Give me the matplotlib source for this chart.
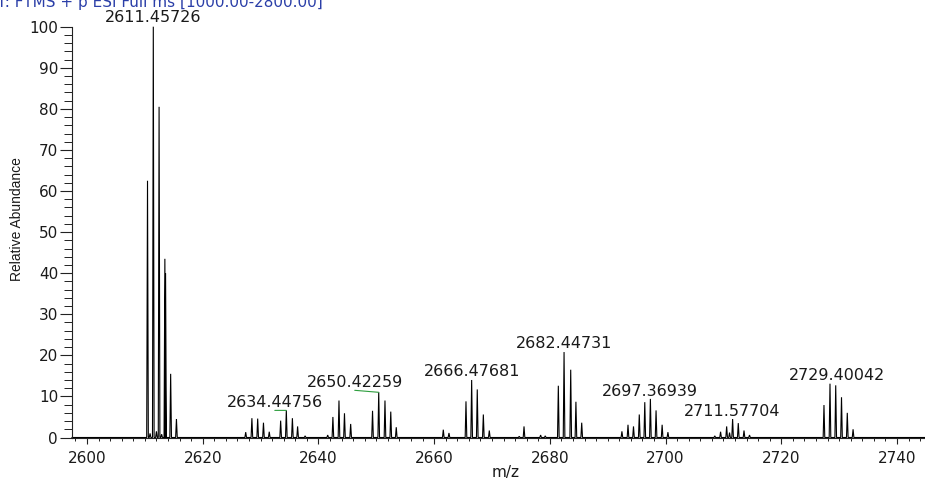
import matplotlib
matplotlib.use("Agg")
import matplotlib.pyplot as plt
from matplotlib.ticker import MultipleLocator

# ---- data ----
peak_mz = [2610.46, 2610.90, 2611.46, 2612.00, 2612.46, 2612.90, 2613.46, 2613.58,
           2614.46, 2615.46,
           2627.43, 2628.50, 2629.50, 2630.50, 2631.50, 2633.47, 2634.45, 2635.50,
           2636.40, 2637.70,
           2641.60, 2642.50, 2643.55, 2644.50, 2645.57, 2649.35, 2650.42, 2651.50,
           2652.50, 2653.45,
           2661.58, 2662.56, 2665.50, 2666.48, 2667.45, 2668.50, 2669.53, 2674.70,
           2675.53, 2678.40, 2679.20,
           2681.46, 2682.45, 2683.60, 2684.50, 2685.50,
           2692.45, 2693.50, 2694.45, 2695.45, 2696.40, 2697.37, 2698.35, 2699.40,
           2700.40,
           2708.50, 2709.50, 2710.55, 2711.05, 2711.58, 2712.56, 2713.55, 2714.50,
           2727.37, 2728.41, 2729.40, 2730.40, 2731.40, 2732.40]
peak_int = [62.5, 1.0, 100.0, 1.5, 80.5, 0.8, 43.5, 40.0,
            15.5, 4.5,
            1.3, 4.7, 4.6, 3.6, 1.4, 4.1, 6.6, 4.7,
            2.7, 0.4,
            0.6, 5.0, 9.0, 5.9, 3.3, 6.5, 11.0, 9.0,
            6.3, 2.5,
            1.9, 1.1, 8.8, 14.0, 11.7, 5.6, 1.7, 0.3,
            2.7, 0.6, 0.4,
            12.6, 20.8, 16.5, 8.7, 3.6,
            1.5, 3.1, 2.7, 5.6, 8.6, 9.4, 6.6, 3.1,
            1.3,
            0.4, 1.4, 2.7, 1.2, 4.5, 3.5, 1.7, 0.6,
            7.9, 13.1, 12.7, 9.8, 6.0, 2.0]

label_mz = [2611.45726, 2634.44756, 2650.42259, 2666.47681,
            2682.44731, 2697.36939, 2711.57704, 2729.40042]
label_int = [100.0, 6.6, 11.0, 14.0, 20.8, 9.4, 4.5, 12.7]
label_text = ["2611.45726", "2634.44756", "2650.42259", "2666.47681",
              "2682.44731", "2697.36939", "2711.57704", "2729.40042"]

x_ticks = [2600, 2620, 2640, 2660, 2680, 2700, 2720, 2740]
y_ticks = [0, 10, 20, 30, 40, 50, 60, 70, 80, 90, 100]

title_text = "T: FTMS + p ESI Full ms [1000.00-2800.00]"

# ---- layout / style ----
W, H = 925, 479
XMIN, XMAX = 2597.41, 2744.83
HALF_W = 0.14
label_offsets = [(0, 4.5), (-11.5, 3), (-24, 5), (0, 4), (0, 4), (-0.7, 3), (0, 3), (1, 5)]
leader = [False, True, True, False, False, False, False, False]
TXT = "#1a1a1a"

fig = plt.figure(figsize=(W / 100, H / 100), dpi=100)
ax = fig.add_axes([72 / W, (H - 437.5) / H, (W - 72) / W, (437.5 - 26.7) / H])

# build profile-like trace from the peak list
order = sorted(range(len(peak_mz)), key=lambda i: peak_mz[i])
xs, ys = [XMIN], [0.0]
for i in order:
    m, h = peak_mz[i], peak_int[i]
    xs += [m - HALF_W, m, m + HALF_W]
    ys += [0.0, h, 0.0]
xs.append(XMAX)
ys.append(0.0)
ax.plot(xs, ys, color="black", lw=0.8, clip_on=False, solid_joinstyle="miter")

ax.set_xlim(XMIN, XMAX)
ax.set_ylim(0, 100)
for s in ("top", "right"):
    ax.spines[s].set_visible(False)
for s in ("left", "bottom"):
    ax.spines[s].set_linewidth(0.8)
    ax.spines[s].set_color("#222222")

ax.set_xticks(x_ticks)
ax.set_yticks(y_ticks)
ax.xaxis.set_minor_locator(MultipleLocator(2))
ax.yaxis.set_minor_locator(MultipleLocator(2))
ax.tick_params(axis="x", which="major", length=4.5, width=0.8, pad=5,
               labelsize=11, colors="#222222")
ax.tick_params(axis="x", which="minor", length=2.2, width=0.7, colors="#222222")
ax.tick_params(axis="y", which="major", length=8.5, width=0.8, pad=1.5,
               labelsize=11, colors="#222222")
ax.tick_params(axis="y", which="minor", length=5.8, width=0.7, colors="#222222")
for lab in ax.get_xticklabels() + ax.get_yticklabels():
    lab.set_color(TXT)

# peak labels
for m, h, t, (dx, dy), ld in zip(label_mz, label_int, label_text, label_offsets, leader):
    kw = {}
    if ld:
        kw["arrowprops"] = dict(arrowstyle="-", color="#2e9e3e", lw=0.8,
                                shrinkA=0, shrinkB=0, relpos=(0.5, 0.0))
    ax.annotate(t, xy=(m, h), xytext=(dx, dy), textcoords="offset pixels",
                ha="center", va="baseline", fontsize=11.5, color=TXT,
                annotation_clip=False, **kw)

# title (partly cut at top-left like the reference)
fig.text(-3 / W, (H - 7) / H, title_text, fontsize=11, color="#2b3fa8",
         ha="left", va="baseline")

fig.text(17.5 / W, 1 - 219 / H, "Relative Abundance", rotation=90,
         ha="center", va="center", fontsize=10, color=TXT,
         family="Liberation Sans")
fig.text(506 / W, 1 - 472 / H, "m/z", ha="center", va="center",
         fontsize=11, color=TXT)

fig.savefig("out.png", dpi=100)
